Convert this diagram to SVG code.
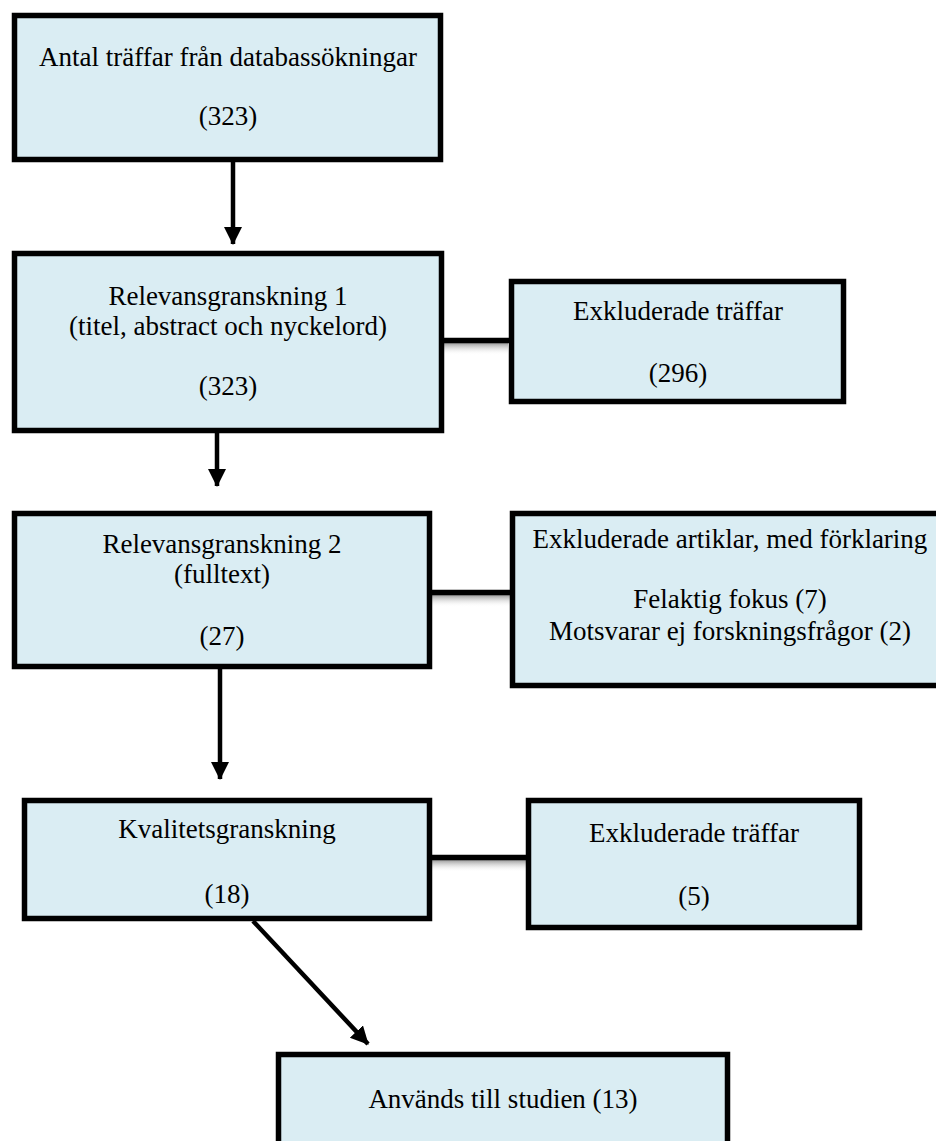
<svg xmlns="http://www.w3.org/2000/svg" width="936" height="1141" viewBox="0 0 936 1141">
  <style>
    .box { fill: #DAEDF3; stroke: #000; stroke-width: 5.5; }
    .t { font-family: "Liberation Serif", "Times New Roman", serif; font-size: 27px; fill: #000; text-anchor: middle; }
    .arrow { stroke: #000; stroke-width: 4.5; fill: none; marker-end: url(#ah); }
    .link { stroke: #000; stroke-width: 5.5; fill: none; }
    .shadow { fill: url(#sh); }
  </style>
  <defs>
    <marker id="ah" markerUnits="userSpaceOnUse" markerWidth="20" markerHeight="20" refX="17" refY="9" orient="auto">
      <path d="M0,0 L18,9 L0,18 Z" fill="#000"/>
    </marker>
    <linearGradient id="sh" x1="0" y1="0" x2="0" y2="1">
      <stop offset="0" stop-color="#9a9a9a"/>
      <stop offset="1" stop-color="#ffffff" stop-opacity="0"/>
    </linearGradient>
  </defs>
  <rect width="936" height="1141" fill="#fff"/>

  <g id="connectors">
    <rect class="shadow" x="444" y="343" width="64" height="12"/>
    <rect class="shadow" x="432" y="595" width="78" height="12"/>
    <rect class="shadow" x="432" y="860" width="94" height="12"/>
    <line class="link" x1="441" y1="340.5" x2="510" y2="340.5"/>
    <line class="link" x1="430" y1="592.5" x2="512" y2="592.5"/>
    <line class="link" x1="430" y1="857.5" x2="528" y2="857.5"/>
    <line class="arrow" x1="233" y1="162" x2="233" y2="244"/>
    <line class="arrow" x1="217" y1="433" x2="217" y2="486"/>
    <line class="arrow" x1="220" y1="669" x2="220" y2="779"/>
    <line class="arrow" x1="253" y1="921" x2="368" y2="1044"/>
  </g>

  <g id="n1">
    <rect class="box" x="14.5" y="15.5" width="426" height="144"/>
    <text class="t" x="228" y="66">Antal träffar från databassökningar</text>
    <text class="t" x="228" y="125">(323)</text>
  </g>

  <g id="n2">
    <rect class="box" x="14.5" y="253.5" width="427" height="177"/>
    <text class="t" x="228" y="305">Relevansgranskning 1</text>
    <text class="t" x="228" y="335">(titel, abstract och nyckelord)</text>
    <text class="t" x="228" y="395">(323)</text>
  </g>

  <g id="n2x">
    <rect class="box" x="511.5" y="281.5" width="332" height="120"/>
    <text class="t" x="678" y="320">Exkluderade träffar</text>
    <text class="t" x="678" y="382">(296)</text>
  </g>

  <g id="n3">
    <rect class="box" x="14.5" y="513.5" width="415" height="153"/>
    <text class="t" x="222" y="553">Relevansgranskning 2</text>
    <text class="t" x="222" y="583">(fulltext)</text>
    <text class="t" x="222" y="645">(27)</text>
  </g>

  <g id="n3x">
    <rect class="box" x="512.5" y="513.5" width="440" height="172"/>
    <text class="t" x="730" y="548">Exkluderade artiklar, med förklaring</text>
    <text class="t" x="730" y="608">Felaktig fokus (7)</text>
    <text class="t" x="730" y="640">Motsvarar ej forskningsfrågor (2)</text>
  </g>

  <g id="n4">
    <rect class="box" x="24.5" y="800.5" width="405" height="118"/>
    <text class="t" x="227" y="838">Kvalitetsgranskning</text>
    <text class="t" x="227" y="903">(18)</text>
  </g>

  <g id="n4x">
    <rect class="box" x="528.5" y="800.5" width="331" height="127"/>
    <text class="t" x="694" y="842">Exkluderade träffar</text>
    <text class="t" x="694" y="905">(5)</text>
  </g>

  <g id="n5">
    <rect class="box" x="278.5" y="1054.5" width="449" height="110"/>
    <text class="t" x="503" y="1108">Används till studien (13)</text>
  </g>
</svg>
